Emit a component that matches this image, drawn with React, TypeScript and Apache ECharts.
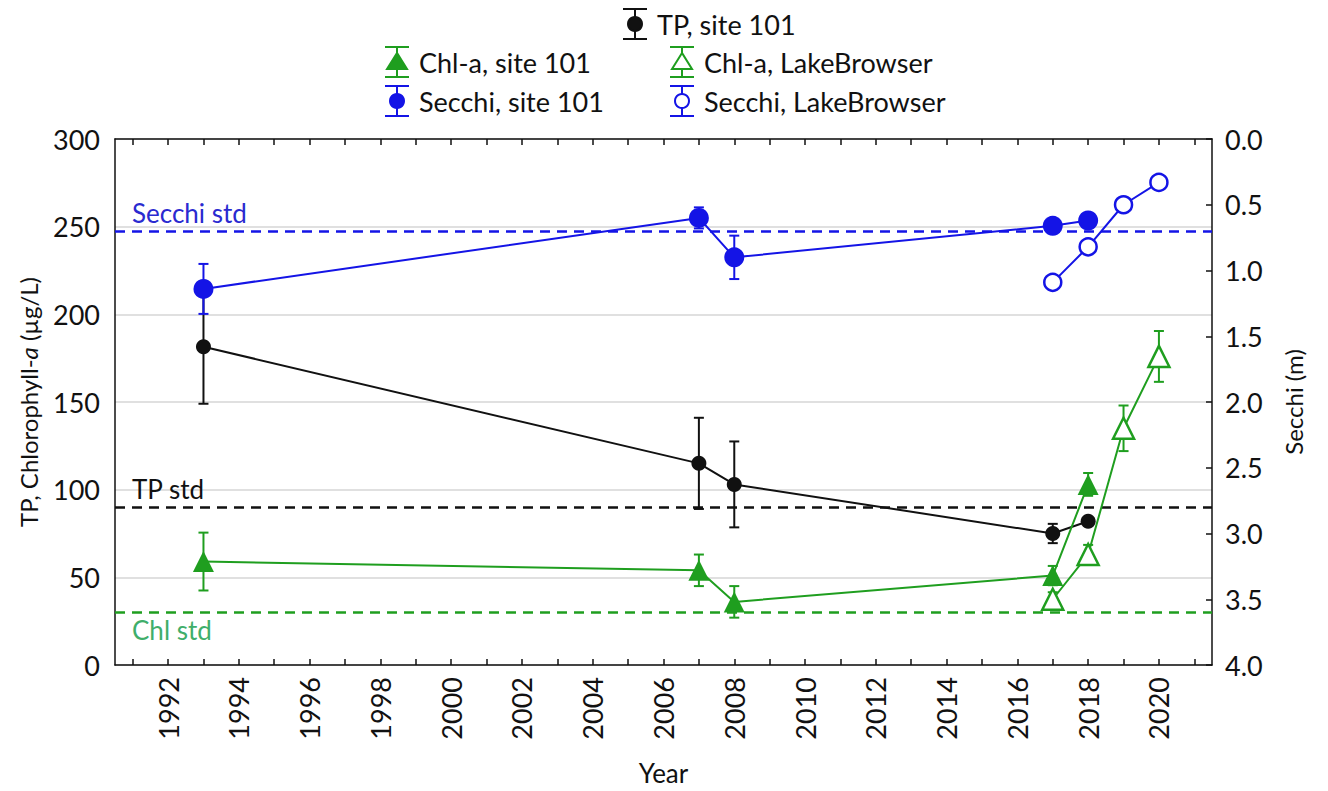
import React, { useEffect, useRef } from 'react';
import * as echarts from 'echarts';

// Sampling years and measured values (mean ± error) per series
const tpYears = [1993, 2007, 2008, 2017, 2018];
const tpValues = [181.5, 115, 103, 75, 82];
const tpErrors = [32.5, 26, 24.5, 5.5, 0];

const chlSiteYears = [1993, 2007, 2008, 2017, 2018];
const chlSiteValues = [59, 54, 36, 51, 103];
const chlSiteErrors = [16.5, 9, 9, 5.5, 6.5];

const chlLakeYears = [2017, 2018, 2019, 2020];
const chlLakeValues = [37.5, 63, 135, 176];
const chlLakeErrors = [4, 5.5, 13, 14.5];

const secchiSiteYears = [1993, 2007, 2008, 2017, 2018];
const secchiSiteValues = [1.14, 0.6, 0.9, 0.66, 0.62];
const secchiSiteErrors = [0.19, 0.08, 0.165, 0, 0];

const secchiLakeYears = [2017, 2018, 2019, 2020];
const secchiLakeValues = [1.09, 0.82, 0.5, 0.33];

// Water-quality standards
const tpStandard = 90;
const chlStandard = 30;
const secchiStandard = 0.7;

// Axis ticks
const yearTicks = [
  1991, 1992, 1993, 1994, 1995, 1996, 1997, 1998, 1999, 2000, 2001, 2002, 2003, 2004, 2005, 2006,
  2007, 2008, 2009, 2010, 2011, 2012, 2013, 2014, 2015, 2016, 2017, 2018, 2019, 2020, 2021,
];
const yearLabels = [1992, 1994, 1996, 1998, 2000, 2002, 2004, 2006, 2008, 2010, 2012, 2014, 2016, 2018, 2020];

const BLACK = '#111111';
const GREEN = '#1f9e1f';
const BLUE = '#1414e6';
const STD_GREEN = '#3fae6a';
const FONT = 'Lato';
const TICK_FONT = 27;

type LegendEntry = { label: string; color: string; marker: 'circle' | 'triangle'; hollow: boolean; cx: number; cy: number };

const legendEntries: LegendEntry[] = [
  { label: 'TP, site 101', color: BLACK, marker: 'circle', hollow: false, cx: 635, cy: 24 },
  { label: 'Chl-a, site 101', color: GREEN, marker: 'triangle', hollow: false, cx: 397, cy: 62 },
  { label: 'Chl-a, LakeBrowser', color: GREEN, marker: 'triangle', hollow: true, cx: 682, cy: 62 },
  { label: 'Secchi, site 101', color: BLUE, marker: 'circle', hollow: false, cx: 397, cy: 101 },
  { label: 'Secchi, LakeBrowser', color: BLUE, marker: 'circle', hollow: true, cx: 682, cy: 101 },
];

function legendGraphic(e: LegendEntry) {
  const line = { stroke: e.color, lineWidth: 2 };
  const fill = e.hollow ? '#ffffff' : e.color;
  const marker =
    e.marker === 'circle'
      ? { type: 'circle', shape: { cx: e.cx, cy: e.cy, r: 7 }, style: { fill, stroke: e.color, lineWidth: 2 } }
      : {
          type: 'polygon',
          shape: { points: [[e.cx, e.cy - 9], [e.cx - 10, e.cy + 7], [e.cx + 10, e.cy + 7]] },
          style: { fill, stroke: e.color, lineWidth: 2 },
        };
  return {
    type: 'group',
    silent: true,
    children: [
      { type: 'line', shape: { x1: e.cx, y1: e.cy - 15, x2: e.cx, y2: e.cy + 15 }, style: line },
      { type: 'line', shape: { x1: e.cx - 12, y1: e.cy - 15, x2: e.cx + 12, y2: e.cy - 15 }, style: line },
      { type: 'line', shape: { x1: e.cx - 12, y1: e.cy + 15, x2: e.cx + 12, y2: e.cy + 15 }, style: line },
      marker,
      {
        type: 'text',
        x: e.cx + 22,
        y: e.cy,
        style: { text: e.label, fill: BLACK, font: `27px ${FONT}`, verticalAlign: 'middle', align: 'left' },
      },
    ],
  };
}

function errorBars(name: string, years: number[], values: number[], errors: number[], color: string, yAxisIndex: number) {
  const data = years
    .map((yr, i) => [yr, values[i] - errors[i], values[i] + errors[i]])
    .filter((d) => d[2] > d[1]);
  return {
    type: 'custom',
    name,
    xAxisIndex: 0,
    yAxisIndex,
    silent: true,
    z: 3,
    encode: { x: 0, y: [1, 2] },
    data,
    renderItem: (_params: any, api: any) => {
      const x = api.value(0);
      const lo = api.coord([x, api.value(1)]);
      const hi = api.coord([x, api.value(2)]);
      const hw = 5;
      const style = { stroke: color, lineWidth: 2 };
      return {
        type: 'group',
        children: [
          { type: 'line', shape: { x1: lo[0], y1: lo[1], x2: hi[0], y2: hi[1] }, style },
          { type: 'line', shape: { x1: lo[0] - hw, y1: lo[1], x2: lo[0] + hw, y2: lo[1] }, style },
          { type: 'line', shape: { x1: hi[0] - hw, y1: hi[1], x2: hi[0] + hw, y2: hi[1] }, style },
        ],
      };
    },
  };
}

function lineSeries(
  name: string,
  years: number[],
  values: number[],
  color: string,
  yAxisIndex: number,
  symbol: string,
  symbolSize: number,
  hollow: boolean,
  extra: any = {}
) {
  return {
    type: 'line',
    name,
    xAxisIndex: 0,
    yAxisIndex,
    data: years.map((yr, i) => [yr, values[i]]),
    symbol,
    symbolSize,
    showAllSymbol: true,
    silent: true,
    z: 4,
    lineStyle: { color, width: 2 },
    itemStyle: hollow ? { color: '#ffffff', borderColor: color, borderWidth: 2.5 } : { color, borderWidth: 0 },
    ...extra,
  };
}

function stdLine(value: number, text: string, lineColor: string, textColor: string, position: string) {
  return {
    yAxis: value,
    lineStyle: { color: lineColor, type: [10, 7], width: 2.5 },
    label: {
      show: true,
      formatter: text,
      position,
      color: textColor,
      fontSize: 26,
      fontFamily: FONT,
      distance: [17, 5],
    },
  };
}

export default function App() {
  const ref = useRef<HTMLDivElement>(null);

  useEffect(() => {
    if (!ref.current) return;
    const chart = echarts.init(ref.current, undefined, { renderer: 'svg' });

    const axisLine = { show: true, lineStyle: { color: BLACK, width: 1.5 } };
    const tickStyle = { color: BLACK, width: 1.5 };

    chart.setOption({
      animation: false,
      backgroundColor: '#ffffff',
      textStyle: { fontFamily: FONT },
      grid: { left: 115, top: 139, width: 1097, height: 526, containLabel: false },
      xAxis: [
        {
          type: 'value',
          position: 'bottom',
          min: 1990.5,
          max: 2021.5,
          axisLine,
          axisTick: { show: true, inside: true, length: 6, customValues: yearTicks, lineStyle: tickStyle },
          axisLabel: {
            customValues: yearLabels,
            rotate: 90,
            fontSize: TICK_FONT,
            color: BLACK,
            fontFamily: FONT,
            margin: 12,
            formatter: (v: number) => String(v),
          },
          splitLine: { show: false },
          name: 'Year',
          nameLocation: 'middle',
          nameGap: 95,
          nameTextStyle: { fontSize: 26, color: BLACK, fontFamily: FONT },
        },
        {
          type: 'value',
          position: 'top',
          min: 1990.5,
          max: 2021.5,
          axisLine,
          axisTick: { show: true, inside: true, length: 6, customValues: yearTicks, lineStyle: tickStyle },
          axisLabel: { show: false },
          splitLine: { show: false },
        },
      ],
      yAxis: [
        {
          type: 'value',
          position: 'left',
          min: 0,
          max: 300,
          interval: 50,
          axisLine,
          axisTick: { show: false },
          axisLabel: { fontSize: TICK_FONT, color: BLACK, fontFamily: FONT, margin: 15 },
          splitLine: { show: true, lineStyle: { color: '#d6d6d6', width: 1.5 } },
          name: '{n|TP, Chlorophyll-}{i|a}{n| (µg/L)}',
          nameLocation: 'middle',
          nameRotate: 90,
          nameGap: 75,
          nameTextStyle: {
            rich: {
              n: { fontSize: 24, color: BLACK, fontFamily: FONT },
              i: { fontSize: 24, color: BLACK, fontFamily: FONT, fontStyle: 'italic' },
            },
          },
        },
        {
          type: 'value',
          position: 'right',
          min: 0,
          max: 4,
          interval: 0.5,
          inverse: true,
          axisLine,
          axisTick: { show: true, inside: true, length: 6, lineStyle: tickStyle },
          axisLabel: {
            fontSize: TICK_FONT,
            color: BLACK,
            fontFamily: FONT,
            margin: 13,
            formatter: (v: number) => v.toFixed(1),
          },
          splitLine: { show: false },
          name: 'Secchi (m)',
          nameLocation: 'middle',
          nameRotate: 90,
          nameGap: 69,
          nameTextStyle: { fontSize: 24, color: BLACK, fontFamily: FONT },
        },
      ],
      graphic: legendEntries.map(legendGraphic),
      series: [
        errorBars('TP error', tpYears, tpValues, tpErrors, BLACK, 0),
        errorBars('Chl-a site error', chlSiteYears, chlSiteValues, chlSiteErrors, GREEN, 0),
        errorBars('Chl-a LakeBrowser error', chlLakeYears, chlLakeValues, chlLakeErrors, GREEN, 0),
        errorBars('Secchi site error', secchiSiteYears, secchiSiteValues, secchiSiteErrors, BLUE, 1),
        lineSeries('TP, site 101', tpYears, tpValues, BLACK, 0, 'circle', 15, false, {
          markLine: {
            silent: true,
            symbol: 'none',
            z: 2,
            data: [
              stdLine(tpStandard, 'TP std', BLACK, BLACK, 'insideStartTop'),
              stdLine(chlStandard, 'Chl std', GREEN, STD_GREEN, 'insideStartBottom'),
            ],
          },
        }),
        lineSeries('Chl-a, site 101', chlSiteYears, chlSiteValues, GREEN, 0, 'triangle', 21, false),
        lineSeries('Chl-a, LakeBrowser', chlLakeYears, chlLakeValues, GREEN, 0, 'triangle', 21, true),
        lineSeries('Secchi, site 101', secchiSiteYears, secchiSiteValues, BLUE, 1, 'circle', 20, false, {
          markLine: {
            silent: true,
            symbol: 'none',
            z: 2,
            data: [stdLine(secchiStandard, 'Secchi std', BLUE, '#2a2ad0', 'insideStartTop')],
          },
        }),
        lineSeries('Secchi, LakeBrowser', secchiLakeYears, secchiLakeValues, BLUE, 1, 'circle', 17, true),
      ],
    });

    return () => chart.dispose();
  }, []);

  return <div ref={ref} style={{ position: 'absolute', left: 0, top: 0, width: 1328, height: 791 }} />;
}
